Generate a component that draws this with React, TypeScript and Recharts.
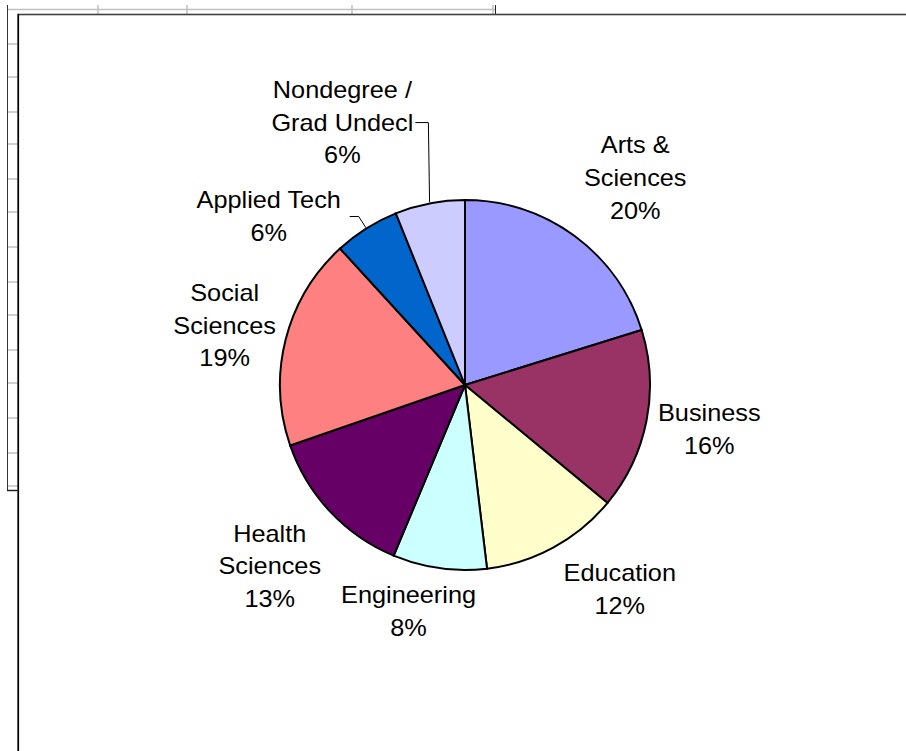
import React from 'react';
import { PieChart, Pie, Cell } from 'recharts';

// ---- data ----
const categories = [
  'Arts & Sciences',
  'Business',
  'Education',
  'Engineering',
  'Health Sciences',
  'Social Sciences',
  'Applied Tech',
  'Nondegree / Grad Undecl',
];
const shares = [20.2, 15.8, 12.1, 8.2, 13.4, 18.5, 5.7, 6.1];
const labelLines = [
  ['Arts &', 'Sciences'],
  ['Business'],
  ['Education'],
  ['Engineering'],
  ['Health', 'Sciences'],
  ['Social', 'Sciences'],
  ['Applied Tech'],
  ['Nondegree /', 'Grad Undecl'],
];
const colors = ['#9999FF', '#993366', '#FFFFCC', '#CCFFFF', '#660066', '#FF8080', '#0066CC', '#CCCCFF'];

const data = categories.map((name, i) => ({ name, value: shares[i] }));
const total = shares.reduce((a, b) => a + b, 0);

// ---- layout ----
const W = 906;
const H = 751;
const CX = 465;
const CY = 385;
const R = 185;
const LABEL_R = 250;
const LABEL_NUDGE: [number, number][] = [
  [22, -6],
  [-1, -4],
  [35, -15],
  [-22, -21],
  [-13, 10],
  [2, 2],
  [-63, 43],
  [-75, -17],
];
// leader lines: [startDx, elbowDx, dy] relative to label anchor, or null
const LEADERS: ([number, number, number] | null)[] = [null, null, null, null, null, null, [81, 90, 0], [73, 86, 0]];
const FONT = "'Liberation Sans', Arial, sans-serif";
const FS = 23;
const LH = 32.7;
const CAP_HALF = 8.2;
const SX = 1.1;

const SHEET_ROWS = [44, 77, 112, 144, 179, 212, 247, 282, 315, 350, 383, 418, 453, 486];
const SHEET_COLS = [98, 187, 352];

const RAD = Math.PI / 180;

const renderLabel = (props: any) => {
  const { cx, cy, midAngle, outerRadius, index, value } = props;
  const bx = cx + LABEL_R * Math.cos(-midAngle * RAD);
  const by = cy + LABEL_R * Math.sin(-midAngle * RAD);
  const [dx, dy] = LABEL_NUDGE[index];
  const ax = bx + dx;
  const ay = by + dy;
  const pct = Math.round((value / total) * 100 + 1e-9);
  const lines = [...labelLines[index], `${pct}%`];
  const n = lines.length;
  const leader = LEADERS[index];
  let leaderEl = null;
  if (leader) {
    const ex = cx + (outerRadius + 1) * Math.cos(-midAngle * RAD);
    const ey = cy + (outerRadius + 1) * Math.sin(-midAngle * RAD);
    const ly = ay + leader[2];
    leaderEl = (
      <polyline
        points={`${ax + leader[0]},${ly} ${ax + leader[1]},${ly} ${ex},${ey}`}
        fill="none"
        stroke="#000"
        strokeWidth={1}
      />
    );
  }
  return (
    <g key={`lbl-${index}`}>
      {leaderEl}
      {lines.map((t, i) => (
        <text
          key={i}
          transform={`translate(${ax},${ay - ((n - 1) * LH) / 2 + i * LH + CAP_HALF}) scale(${SX},1)`}
          textAnchor="middle"
          fontFamily={FONT}
          fontSize={FS}
          fill="#000"
        >
          {t}
        </text>
      ))}
    </g>
  );
};

export default function App() {
  return (
    <div style={{ position: 'absolute', left: 0, top: 0, width: W, height: H, overflow: 'hidden', background: '#fff' }}>
      <svg width={W} height={H} style={{ position: 'absolute', left: 0, top: 0 }}>
        {/* spreadsheet behind the chart */}
        <line x1={7} y1={9.5} x2={495} y2={9.5} stroke="#c0c0c0" strokeWidth={1.5} />
        {SHEET_COLS.map((x) => (
          <line key={x} x1={x} y1={5} x2={x} y2={14} stroke="#c0c0c0" strokeWidth={1.5} />
        ))}
        <line x1={493} y1={5} x2={493} y2={14} stroke="#c0c0c0" strokeWidth={1.5} />
        <line x1={495.5} y1={5} x2={495.5} y2={14} stroke="#222" strokeWidth={1} />
        {SHEET_ROWS.map((y) => (
          <line key={y} x1={7} y1={y} x2={18} y2={y} stroke="#c0c0c0" strokeWidth={1.5} />
        ))}
        <line x1={7.5} y1={5} x2={7.5} y2={491} stroke="#333" strokeWidth={1} />
        <line x1={7} y1={490.5} x2={18} y2={490.5} stroke="#222" strokeWidth={1.5} />
        {/* chart frame */}
        <rect x={18} y={14.5} width={W} height={H} fill="#fff" stroke="#404040" strokeWidth={1.6} />
        <line x1={18.5} y1={14} x2={18.5} y2={H} stroke="#000" strokeWidth={1.2} />
      </svg>
      <div style={{ position: 'absolute', left: 0, top: 0 }}>
        <PieChart width={W} height={H} margin={{ top: 0, right: 0, bottom: 0, left: 0 }}>
          <Pie
            data={data}
            dataKey="value"
            nameKey="name"
            cx={CX}
            cy={CY}
            outerRadius={R}
            startAngle={90}
            endAngle={-270}
            stroke="#000"
            strokeWidth={2}
            label={renderLabel}
            labelLine={false}
            isAnimationActive={false}
          >
            {data.map((d, i) => (
              <Cell key={d.name} fill={colors[i]} stroke="#000" strokeWidth={2} />
            ))}
          </Pie>
        </PieChart>
      </div>
    </div>
  );
}
